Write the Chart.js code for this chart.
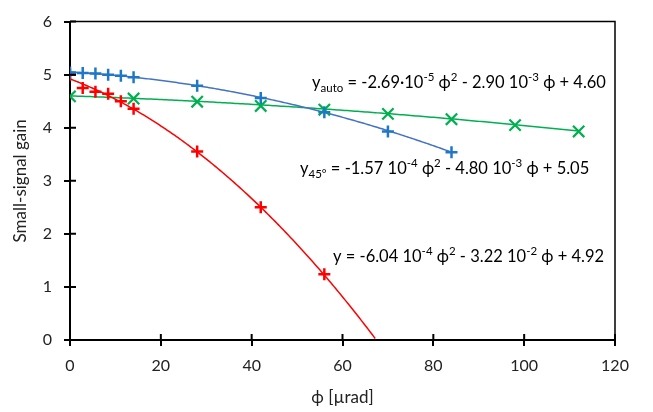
<!DOCTYPE html>
<html>
<head>
<meta charset="utf-8">
<script src="https://cdn.jsdelivr.net/npm/chart.js@4"></script>
<style>
  html, body { margin: 0; padding: 0; background: #fff; }
  #wrap { width: 653px; height: 412px; }
</style>
</head>
<body>
<div id="wrap"><canvas id="myChart"></canvas></div>
<script>
// phi values [µrad] and gains
const phi45 = [0, 2.8, 5.6, 8.4, 11.2, 14, 28, 42, 56, 70, 84]
const gain45 = [5.04, 5.03, 5.02, 5.0, 4.98, 4.95, 4.79, 4.56, 4.29, 3.93, 3.54]

const phiAuto = [0, 14, 28, 42, 56, 70, 84, 98, 112]
const gainAuto = [4.59, 4.55, 4.49, 4.41, 4.34, 4.26, 4.16, 4.05, 3.93]

const phiY = [0, 2.8, 5.6, 8.4, 11.2, 14, 28, 42, 56]
const gainY = [5.0, 4.75, 4.68, 4.64, 4.5, 4.36, 3.55, 2.5, 1.24]

// trendline coefficients as printed: a*phi^2 + b*phi + c
const fit45 = [-1.57e-4, -4.80e-3, 5.05]
const fitAuto = [-2.69e-5, -2.90e-3, 4.60]
const fitY = [-6.04e-4, -3.22e-2, 4.92]

const xTicks = [0, 20, 40, 60, 80, 100, 120]
const yTicks = [0, 1, 2, 3, 4, 5, 6]

const FONT = "Lato, 'Open Sans', sans-serif"

const toXY = (xs, ys) => xs.map((x, i) => ({ x: x, y: ys[i] }))

// trendlines + frame + equations
const extras = {
  id: "extras",
  beforeDatasetsDraw(chart) {
    const { ctx, chartArea: a, scales } = chart
    const sx = scales.x, sy = scales.y
    const trends = [
      { f: fitAuto, x0: 0, x1: 112, color: "#00B050" },
      { f: fit45, x0: 0, x1: 84, color: "#4472C4" },
      { f: fitY, x0: 0, x1: 70, color: "#FF0000" },
    ]
    ctx.save()
    ctx.beginPath()
    ctx.rect(a.left, a.top, a.right - a.left, a.bottom - a.top)
    ctx.clip()
    trends.forEach(t => {
      ctx.beginPath()
      ctx.strokeStyle = t.color
      ctx.lineWidth = 1.5
      let first = true
      for (let i = 0; i <= 200; i++) {
        const x = t.x0 + (t.x1 - t.x0) * i / 200
        const y = t.f[0] * x * x + t.f[1] * x + t.f[2]
        if (y < 0) break
        const px = sx.getPixelForValue(x), py = sy.getPixelForValue(y)
        if (first) { ctx.moveTo(px, py); first = false } else ctx.lineTo(px, py)
      }
      ctx.stroke()
    })
    ctx.restore()
  },
  afterDraw(chart) {
    const { ctx, chartArea: a, scales } = chart
    ctx.save()
    // top / right frame
    ctx.strokeStyle = "#000"
    ctx.lineWidth = 1.5
    ctx.beginPath()
    ctx.moveTo(a.left, a.top)
    ctx.lineTo(a.right, a.top)
    ctx.lineTo(a.right, a.bottom)
    ctx.stroke()
    // inner tick marks
    ctx.lineWidth = 2
    ctx.beginPath()
    xTicks.forEach(v => {
      const px = scales.x.getPixelForValue(v)
      ctx.moveTo(px, a.bottom); ctx.lineTo(px, a.bottom - 6)
    })
    yTicks.forEach(v => {
      const py = scales.y.getPixelForValue(v)
      ctx.moveTo(a.left, py); ctx.lineTo(a.left + 6, py)
    })
    ctx.stroke()

    // equations
    const eqs = [
      { x: 312, y: 88, parts: [["y"], ["auto", "sub"], [" = -2.69·10"], ["-5", "sup"], [" ϕ"], ["2", "sup"], [" - 2.90 10"], ["-3", "sup"], [" ϕ + 4.60"]] },
      { x: 300, y: 174, parts: [["y"], ["45°", "sub"], [" = -1.57 10"], ["-4", "sup"], [" ϕ"], ["2", "sup"], [" - 4.80 10"], ["-3", "sup"], [" ϕ + 5.05"]] },
      { x: 333, y: 262, parts: [["y = -6.04 10"], ["-4", "sup"], [" ϕ"], ["2", "sup"], [" - 3.22 10"], ["-2", "sup"], [" ϕ + 4.92"]] },
    ]
    ctx.fillStyle = "#000"
    ctx.textBaseline = "alphabetic"
    eqs.forEach(e => {
      let x = e.x
      e.parts.forEach(p => {
        let dy = 0
        if (p[1]) {
          ctx.font = "11.5px " + FONT
          dy = p[1] == "sup" ? -7 : 4
        } else {
          ctx.font = "16.5px " + FONT
        }
        ctx.fillText(p[0], x, e.y + dy)
        x += ctx.measureText(p[0]).width
      })
    })
    ctx.restore()
  },
}

const pintar = () => {
  new Chart(document.getElementById("myChart"), {
    type: "scatter",
    data: {
      datasets: [
        {
          label: "45°",
          data: toXY(phi45, gain45),
          pointStyle: "cross",
          pointRadius: 6,
          borderWidth: 2.5,
          borderColor: "#1F77C8",
          backgroundColor: "#1F77C8",
        },
        {
          label: "auto",
          data: toXY(phiAuto, gainAuto),
          pointStyle: "crossRot",
          pointRadius: 8,
          borderWidth: 2.2,
          borderColor: "#00B050",
          backgroundColor: "#00B050",
        },
        {
          label: "y",
          data: toXY(phiY, gainY),
          pointStyle: "cross",
          pointRadius: 6,
          borderWidth: 2.5,
          borderColor: "#FF0000",
          backgroundColor: "#FF0000",
        },
      ],
    },
    options: {
      responsive: true,
      maintainAspectRatio: false,
      animation: false,
      layout: { padding: { top: 9, right: 38, left: 0, bottom: 0 } },
      plugins: { legend: { display: false }, tooltip: { enabled: false } },
      scales: {
        x: {
          type: "linear",
          min: 0, max: 120,
          afterBuildTicks: s => { s.ticks = xTicks.map(v => ({ value: v })) },
          afterFit: s => { s.height = 72 },
          ticks: { color: "#222", font: { family: FONT, size: 16 }, padding: 10 },
          grid: { drawOnChartArea: false, color: "#000", tickLength: 6, lineWidth: 2 },
          border: { color: "#000", width: 2 },
          title: { display: true, text: "ϕ [µrad]", color: "#222", font: { family: FONT, size: 17 }, padding: { top: 0, bottom: 4 } },
        },
        y: {
          min: 0, max: 6,
          afterBuildTicks: s => { s.ticks = yTicks.map(v => ({ value: v })) },
          afterFit: s => { s.width = 70 },
          ticks: { color: "#222", font: { family: FONT, size: 16 }, padding: 12 },
          grid: { drawOnChartArea: false, color: "#000", tickLength: 6, lineWidth: 2 },
          border: { color: "#000", width: 2 },
          title: { display: true, text: "Small-signal gain", color: "#222", font: { family: FONT, size: 17 }, padding: { top: 10, bottom: 0 } },
        },
      },
    },
    plugins: [extras],
  })
}

window.addEventListener("load", pintar)
</script>
</body>
</html>
